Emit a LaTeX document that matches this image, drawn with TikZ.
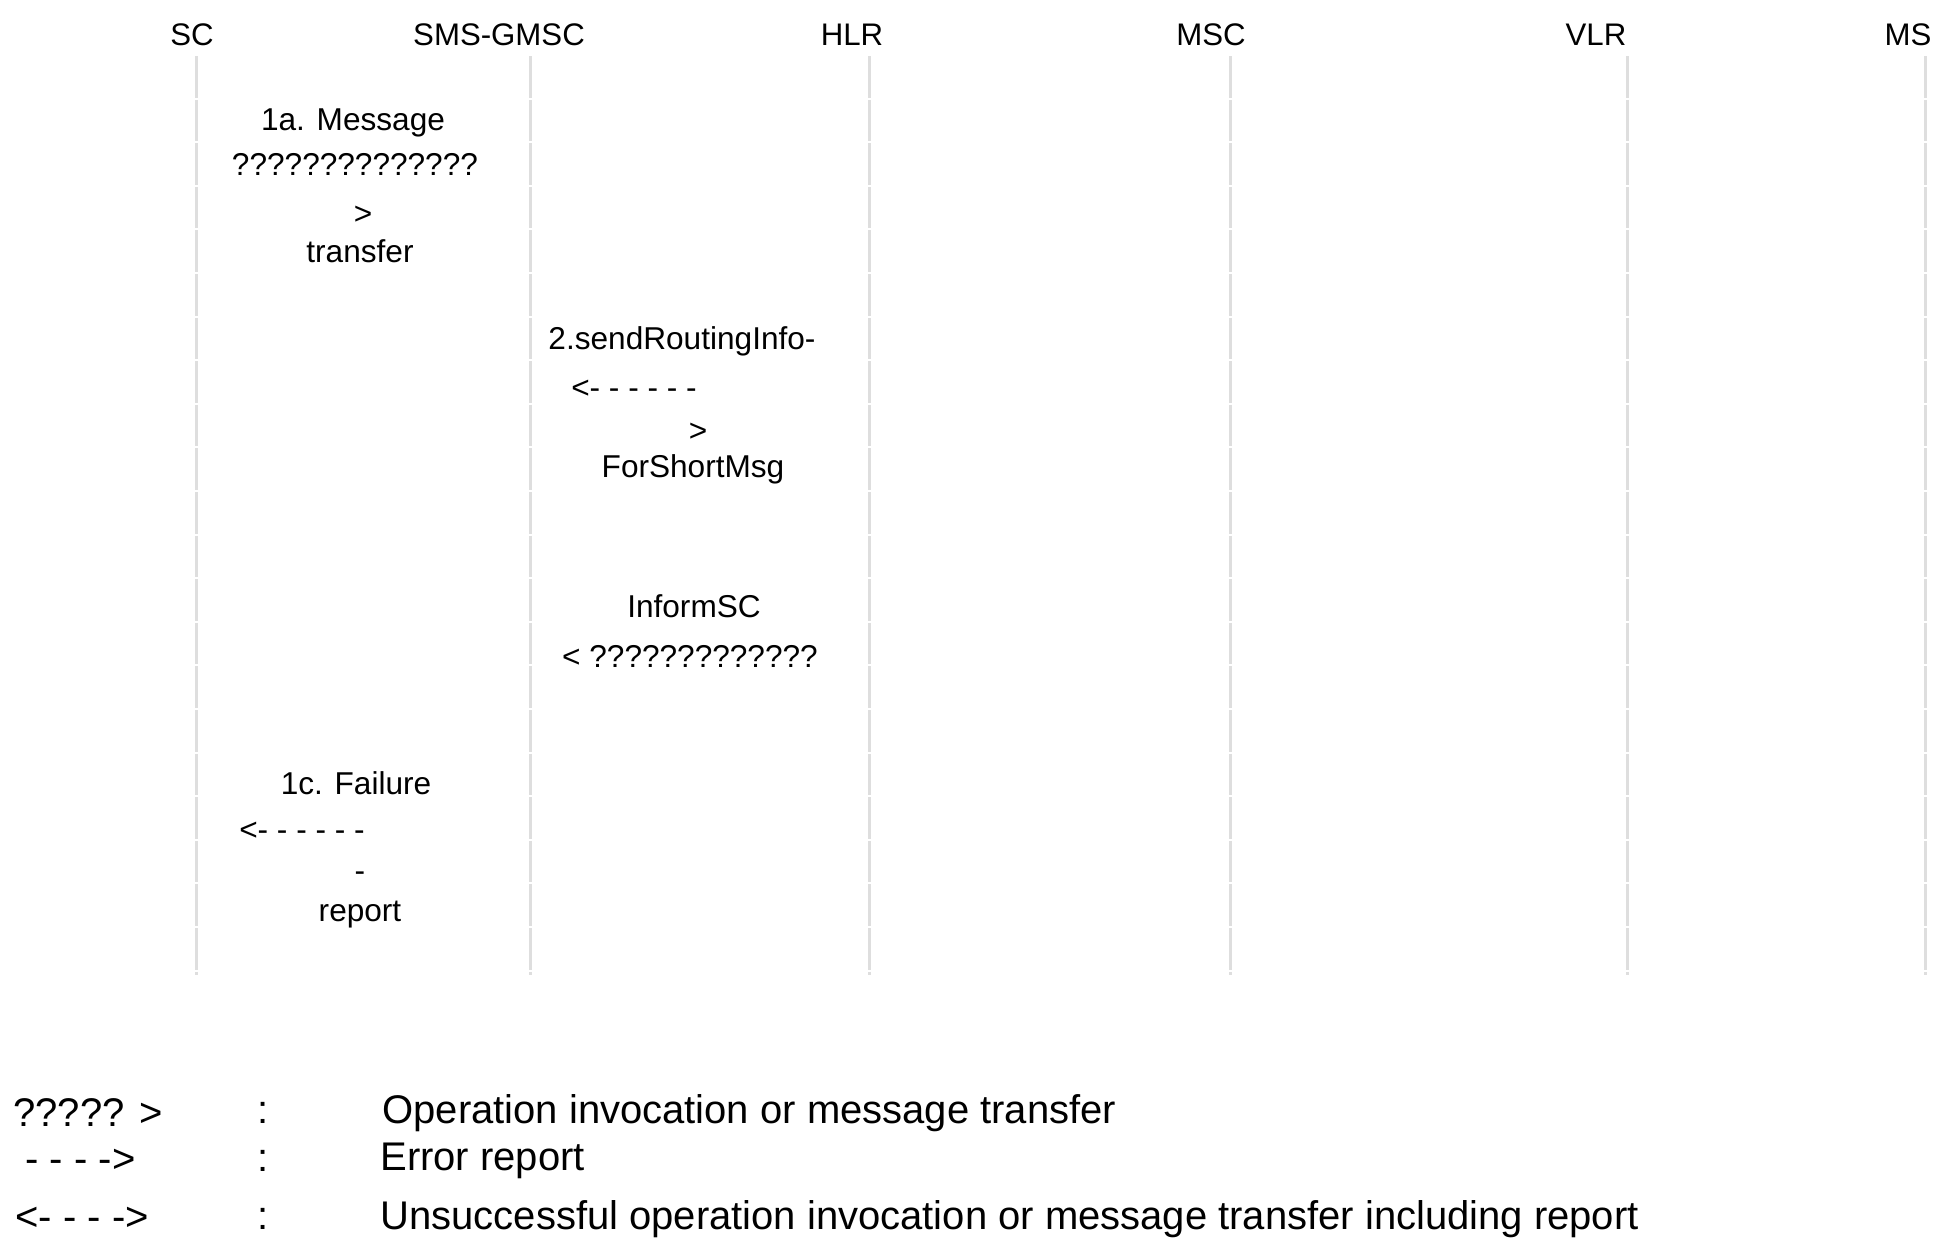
\documentclass[tikz,border=0pt]{standalone}
\usepackage{fontspec}
\setmainfont{Liberation Sans}
\begin{document}
\begin{tikzpicture}[x=0.5pt, y=-0.5pt,
    lifeline/.style={draw=black!13, line width=1.5pt, dash pattern=on 20.8pt off 1pt},
    entity/.style={inner sep=0pt, font=\fontsize{15.6}{18}\selectfont},
    msg/.style={inner sep=0pt, font=\fontsize{15.8}{18}\selectfont},
    legend/.style={inner sep=0pt, anchor=west, font=\fontsize{20}{24}\selectfont}]
    \useasboundingbox (0,0) rectangle (1943,1244);
    % entities and their lifelines
    \foreach \n/\lx/\x/\txt in {sc/192/196/SC, gmsc/499/530/SMS-GMSC, hlr/852/869/HLR, msc/1211/1230/MSC, vlr/1596/1627/VLR, ms/1908/1925/MS} {
        \node[entity] (\n) at (\lx,35) {\txt};
        \coordinate (\n-top) at (\x,56);
        \coordinate (\n-bot) at (\x,975);
        \draw[lifeline] (\n-top) -- (\n-bot);
    }
    % messages
    \node[msg] (m1a) at (353,123) {1a. Message};
    \node[msg] (m1a-arr) at (355,164) {??????????????};
    \node[msg] (m1a-tip) at (363,215) {>};
    \node[msg] (m1a-end) at (360,251) {transfer};
    \node[msg] (m2) at (682,341) {2.sendRoutingInfo-};
    \node[msg] (m2-arr) at (634,389) {<- - - - - -};
    \node[msg] (m2-tip) at (698,432) {>};
    \node[msg] (m2-end) at (693,469) {ForShortMsg};
    \node[msg] (inf) at (694,606) {InformSC};
    \node[msg] (inf-arr) at (690,656) {< ?????????????};
    \node[msg] (m1c) at (356,783) {1c. Failure};
    \node[msg] (m1c-arr) at (302,831) {<- - - - - -};
    \node[msg] (m1c-tip) at (360,877) {-};
    \node[msg] (m1c-end) at (360,915) {report};
    % legend
    \node[legend] (key1) at (13,1113) {????? >};
    \node[legend] (key2) at (25,1161) {- - - ->};
    \node[legend] (key3) at (15,1219) {<- - - ->};
    \foreach \k/\y in {1/1113, 2/1161, 3/1219}
        \node[legend, anchor=center] (colon\k) at (263,\y) {:};
    \node[legend] (desc1) at (382,1113) {Operation invocation or message transfer};
    \node[legend] (desc2) at (380,1161) {Error report};
    \node[legend] (desc3) at (380,1219) {Unsuccessful operation invocation or message transfer including report};
\end{tikzpicture}
\end{document}
